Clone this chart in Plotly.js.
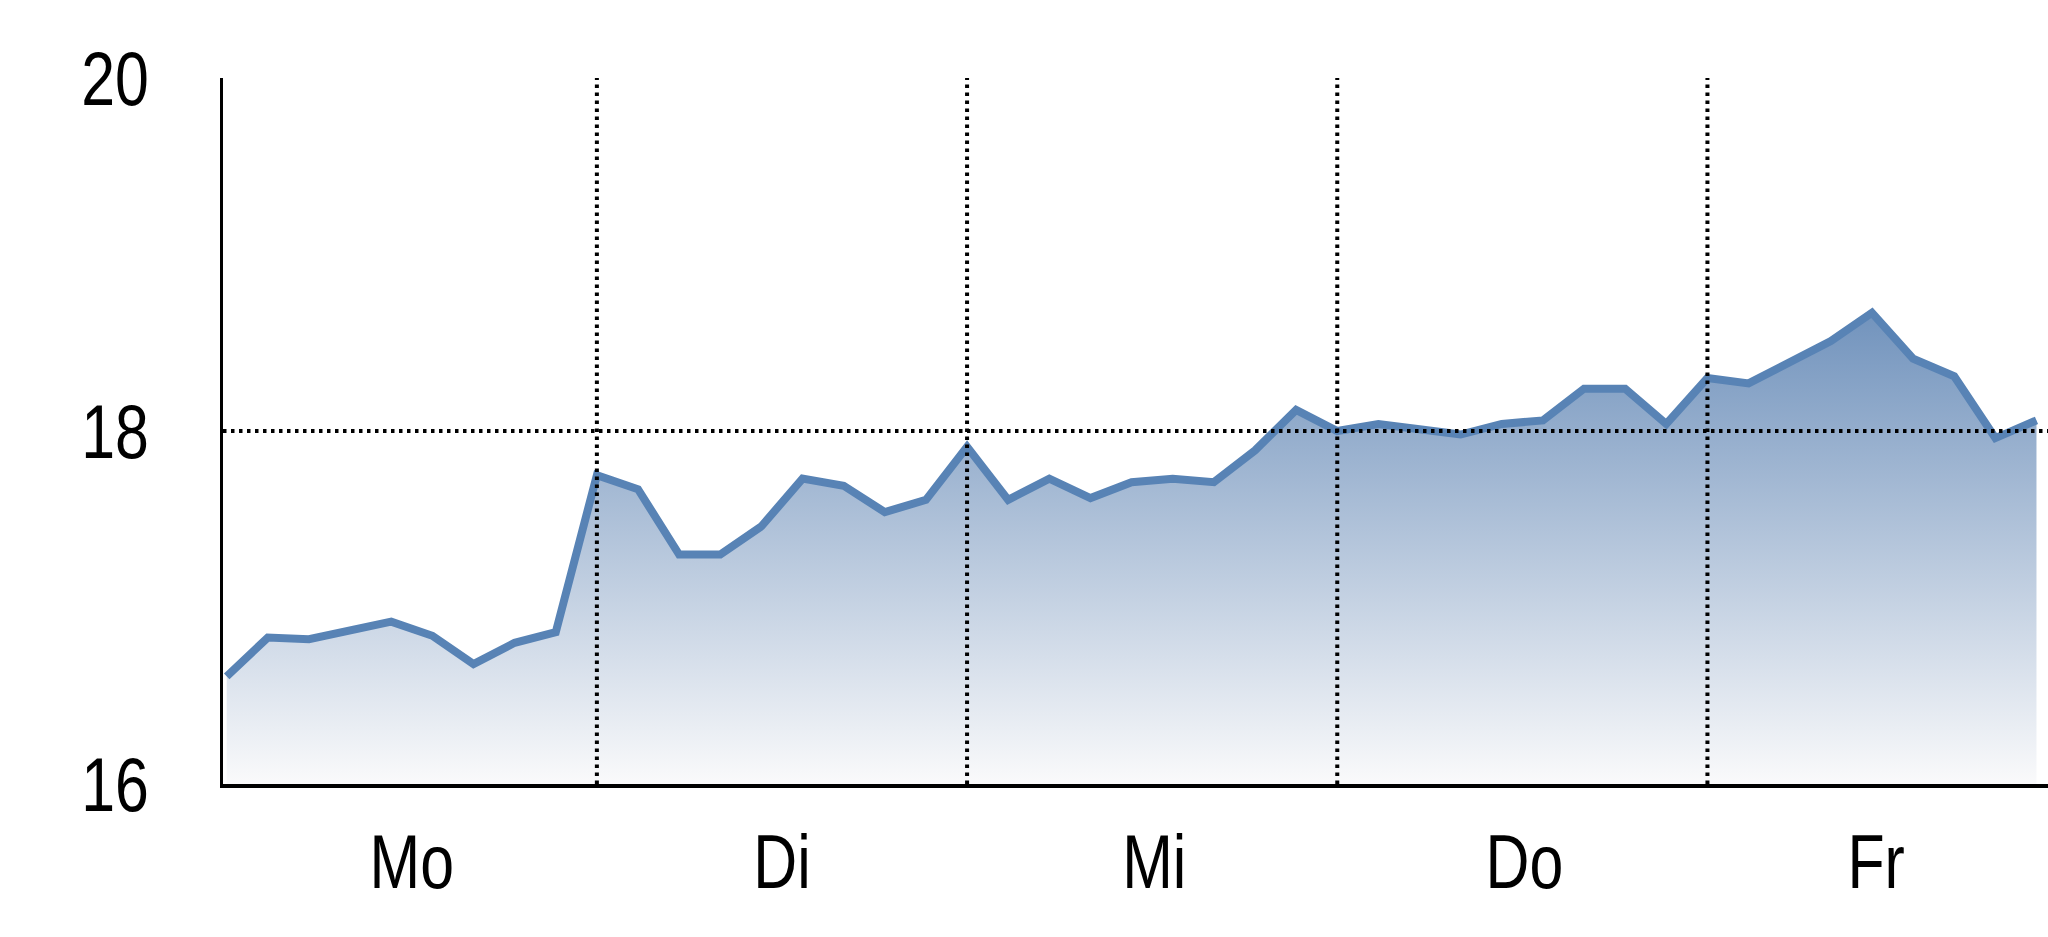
<!DOCTYPE html>
<html>
<head>
<meta charset="utf-8">
<script src="https://cdn.plot.ly/plotly-3.0.1.min.js"></script>
<style>
  html, body { margin: 0; padding: 0; background: #fff; }
  #chart { width: 2048px; height: 937px; }
</style>
</head>
<body>
<div id="chart"></div>
<script>
// readings, 9 per day
const readings = [
    16.61, 16.83, 16.82, 16.87, 16.92, 16.84, 16.68, 16.80, 16.86,
    17.75, 17.67, 17.30, 17.30, 17.46, 17.73, 17.69, 17.54, 17.61,
    17.91, 17.61, 17.73, 17.62, 17.71, 17.73, 17.71, 17.89, 18.12,
    18.00, 18.04, 18.01, 17.98, 18.04, 18.06, 18.24, 18.24, 18.04,
    18.30, 18.27, 18.39, 18.51, 18.67, 18.41, 18.31, 17.96, 18.06
];
const days = ['Mo', 'Di', 'Mi', 'Do', 'Fr'];
const dayLabelPos = [4.5, 13.5, 22.55, 31.55, 40.1];
const dayBreaks = [9, 18, 27, 36];
const yTicks = [16, 18, 20];

const steps = readings.map((_, i) => i);
const font = '"Liberation Sans", Arial, sans-serif';
const dotted = { color: 'black', width: 4, dash: '3.5px,4.5px' };

const data = [{
    x: steps,
    y: readings,
    type: 'scatter',
    mode: 'lines',
    fill: 'tozeroy',
    fillgradient: {
        type: 'vertical',
        start: 16,
        stop: 18.7,
        colorscale: [[0, 'rgb(250,250,251)'], [1, 'rgb(112,146,188)']]
    },
    line: { color: 'rgb(88,131,181)', width: 8, shape: 'linear' },
    hoverinfo: 'skip'
}];

const shapes = dayBreaks.map(d => ({
    type: 'line', xref: 'x', yref: 'y',
    x0: d, x1: d, y0: 16, y1: 20,
    line: dotted, layer: 'above'
}));
shapes.push({
    type: 'line', xref: 'paper', yref: 'y',
    x0: 0, x1: 1, y0: 18, y1: 18,
    line: dotted, layer: 'above'
});

const layout = {
    width: 2048,
    height: 937,
    margin: { l: 223, r: 0, t: 78, b: 153 },
    paper_bgcolor: 'white',
    plot_bgcolor: 'white',
    showlegend: false,
    font: { family: font, color: 'black', size: 76 },
    xaxis: {
        range: [-0.09, 44.28],
        tickvals: dayLabelPos,
        ticktext: days,
        showgrid: false,
        zeroline: false,
        showline: true,
        linecolor: 'black',
        linewidth: 3.5,
        ticks: '',
        ticklabelstandoff: 9,
        tickfont: { family: font, size: 76, color: 'black' }
    },
    yaxis: {
        range: [16, 20],
        tickvals: yTicks,
        showgrid: false,
        zeroline: false,
        showline: true,
        linecolor: 'black',
        linewidth: 3,
        ticks: '',
        ticklabelstandoff: 56,
        tickfont: { family: font, size: 76, color: 'black' }
    },
    shapes: shapes
};

// squeeze tick labels horizontally to imitate the narrow face of the original
function narrow(sel, anchor) {
    document.querySelectorAll(sel).forEach(t => {
        const b = t.getBBox();
        const cx = anchor === 'end' ? b.x + b.width : b.x + b.width / 2;
        const tr = t.getAttribute('transform') || '';
        t.setAttribute('transform', tr + ` translate(${cx},0) scale(0.8,1) translate(${-cx},0)`);
    });
}

Plotly.newPlot('chart', data, layout, { staticPlot: true }).then(() => {
    narrow('#chart .xtick text', 'middle');
    narrow('#chart .ytick text', 'end');
});
</script>
</body>
</html>
